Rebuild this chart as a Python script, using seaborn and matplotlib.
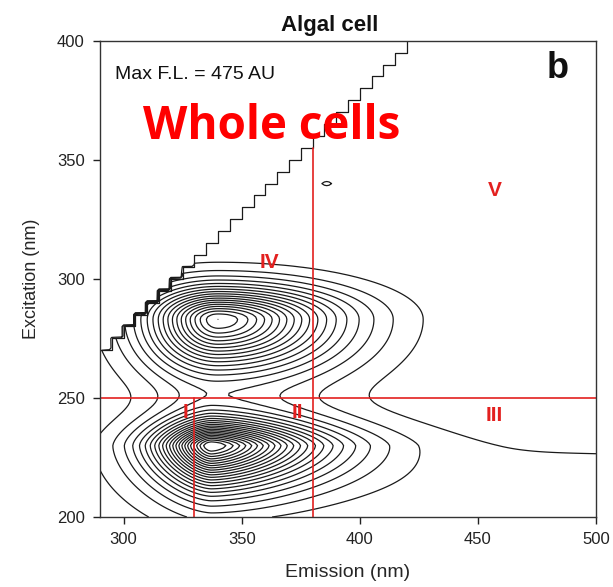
import numpy as np
import matplotlib
matplotlib.use("Agg")
import matplotlib.pyplot as plt
import seaborn as sns

# ---- fluorescence components (positions in nm, heights in AU) ----
component_names = ["Peak T1", "Peak T2", "Band III", "Spot"]
peak_em = [337, 340, 500, 386]
peak_ex = [230, 283, 212, 340]
peak_amp = [475, 380, 27, 26]
width_em_left = [21.9, 27.6, 180, 4]
width_em_right = [43, 46, 180, 4]
width_ex_down = [16.4, 21, 30, 1.8]
width_ex_up = [10.8, 12.7, 26, 1.8]
falloff = [1.5, 1.7, 2.0, 2.0]      # radial decay exponent
roundness = [1.6, 2.0, 2.0, 2.0]    # contour shape exponent

max_fl = 475
contour_levels = list(range(20, 475, 20))

em_range = (290, 500)
ex_range = (200, 400)
em_ticks = [300, 350, 400, 450, 500]
ex_ticks = [200, 250, 300, 350, 400]
grid_step = 1
scatter_offset = 20   # emission cut-off above the excitation wavelength
scatter_step = 5      # excitation increment of the scan

# ---- region boundaries and labels ----
boundary_ex = 250
boundary_em = [330, 380]
boundary_em_top = [250, 355]
region_labels = ["I", "II", "III", "IV", "V"]
label_em = [326, 373.6, 457, 361.7, 457]
label_ex = [243.7, 243.7, 242.8, 307, 337]

red = "#e3201f"
ink = "#1a1a1a"

# ---- build the EEM surface ----
em = np.arange(em_range[0], em_range[1] + grid_step, grid_step)
ex = np.arange(ex_range[0], ex_range[1] + grid_step, grid_step)
EM, EX = np.meshgrid(em, ex)
F = np.zeros_like(EM, dtype=float)
for i in range(len(component_names)):
    dx = EM - peak_em[i]
    dy = EX - peak_ex[i]
    sx = np.where(dx < 0, width_em_left[i], width_em_right[i])
    sy = np.where(dy < 0, width_ex_down[i], width_ex_up[i])
    q = roundness[i]
    r = (np.abs(dx / sx) ** q + np.abs(dy / sy) ** q) ** (1.0 / q)
    F += peak_amp[i] * np.exp(-r ** falloff[i])

# remove the scatter region (emission shorter than excitation + offset)
cutoff = scatter_step * np.ceil(EX / scatter_step) + scatter_offset
F[EM < cutoff] = 0.0

# staircase outline of the removed region
stair_start = em_range[0] - scatter_offset
stair_em = [em_range[0]]
stair_ex = [stair_start]
for e in np.arange(stair_start, ex_range[1], scatter_step):
    c = e + scatter_step + scatter_offset
    stair_em += [c, c]
    stair_ex += [e, e + scatter_step]

# ---- figure ----
sns.set_theme(style="ticks")
plt.rcParams["font.family"] = ["Liberation Sans", "DejaVu Sans"]

fig = plt.figure(figsize=(6.13, 5.87), dpi=100)
ax = fig.add_axes([100 / 613, 1 - 517 / 587, 496 / 613, 476.3 / 587])

ax.contour(EM, EX, F, levels=contour_levels, colors=ink, linewidths=0.9)
sns.lineplot(x=stair_em, y=stair_ex, sort=False, color=ink, linewidth=0.9,
             ax=ax, estimator=None)

# region boundaries
sns.lineplot(x=list(em_range), y=[boundary_ex, boundary_ex], color=red,
             linewidth=1.2, ax=ax)
for e, top in zip(boundary_em, boundary_em_top):
    sns.lineplot(x=[e, e], y=[ex_range[0], top], color=red, linewidth=1.2,
                 ax=ax, estimator=None, sort=False)

for lab, xe, ye in zip(region_labels, label_em, label_ex):
    ax.text(xe, ye, lab, color=red, fontsize=15, fontweight="bold",
            ha="center", va="center")

ax.text(296.4, 386, f"Max F.L. = {max_fl} AU", fontsize=14,
        ha="left", va="center", color="#111111")
ax.text(362.6, 364, "Whole cells", fontsize=33, fontweight="bold",
        family=["Open Sans", "DejaVu Sans"], color="#ff0000",
        ha="center", va="center")
ax.text(483.8, 388.5, "b", fontsize=26, fontweight="bold",
        ha="center", va="center", color="#111111")

ax.set_xlim(*em_range)
ax.set_ylim(*ex_range)
ax.set_xticks(em_ticks)
ax.set_yticks(ex_ticks)
ax.tick_params(labelsize=12, length=5, width=1, colors="#222222", pad=6)
for s in ax.spines.values():
    s.set_linewidth(1.0)
    s.set_color("#333333")

ax.set_xlabel("Emission (nm)", fontsize=14, labelpad=12)
ax.set_ylabel("Excitation (nm)", fontsize=13, labelpad=12)
fig.text(330 / 613, 1 - 31 / 587, "Algal cell", fontsize=16, fontweight="bold",
         ha="center", va="baseline", color="#111111")

fig.savefig("out.png", dpi=100)
